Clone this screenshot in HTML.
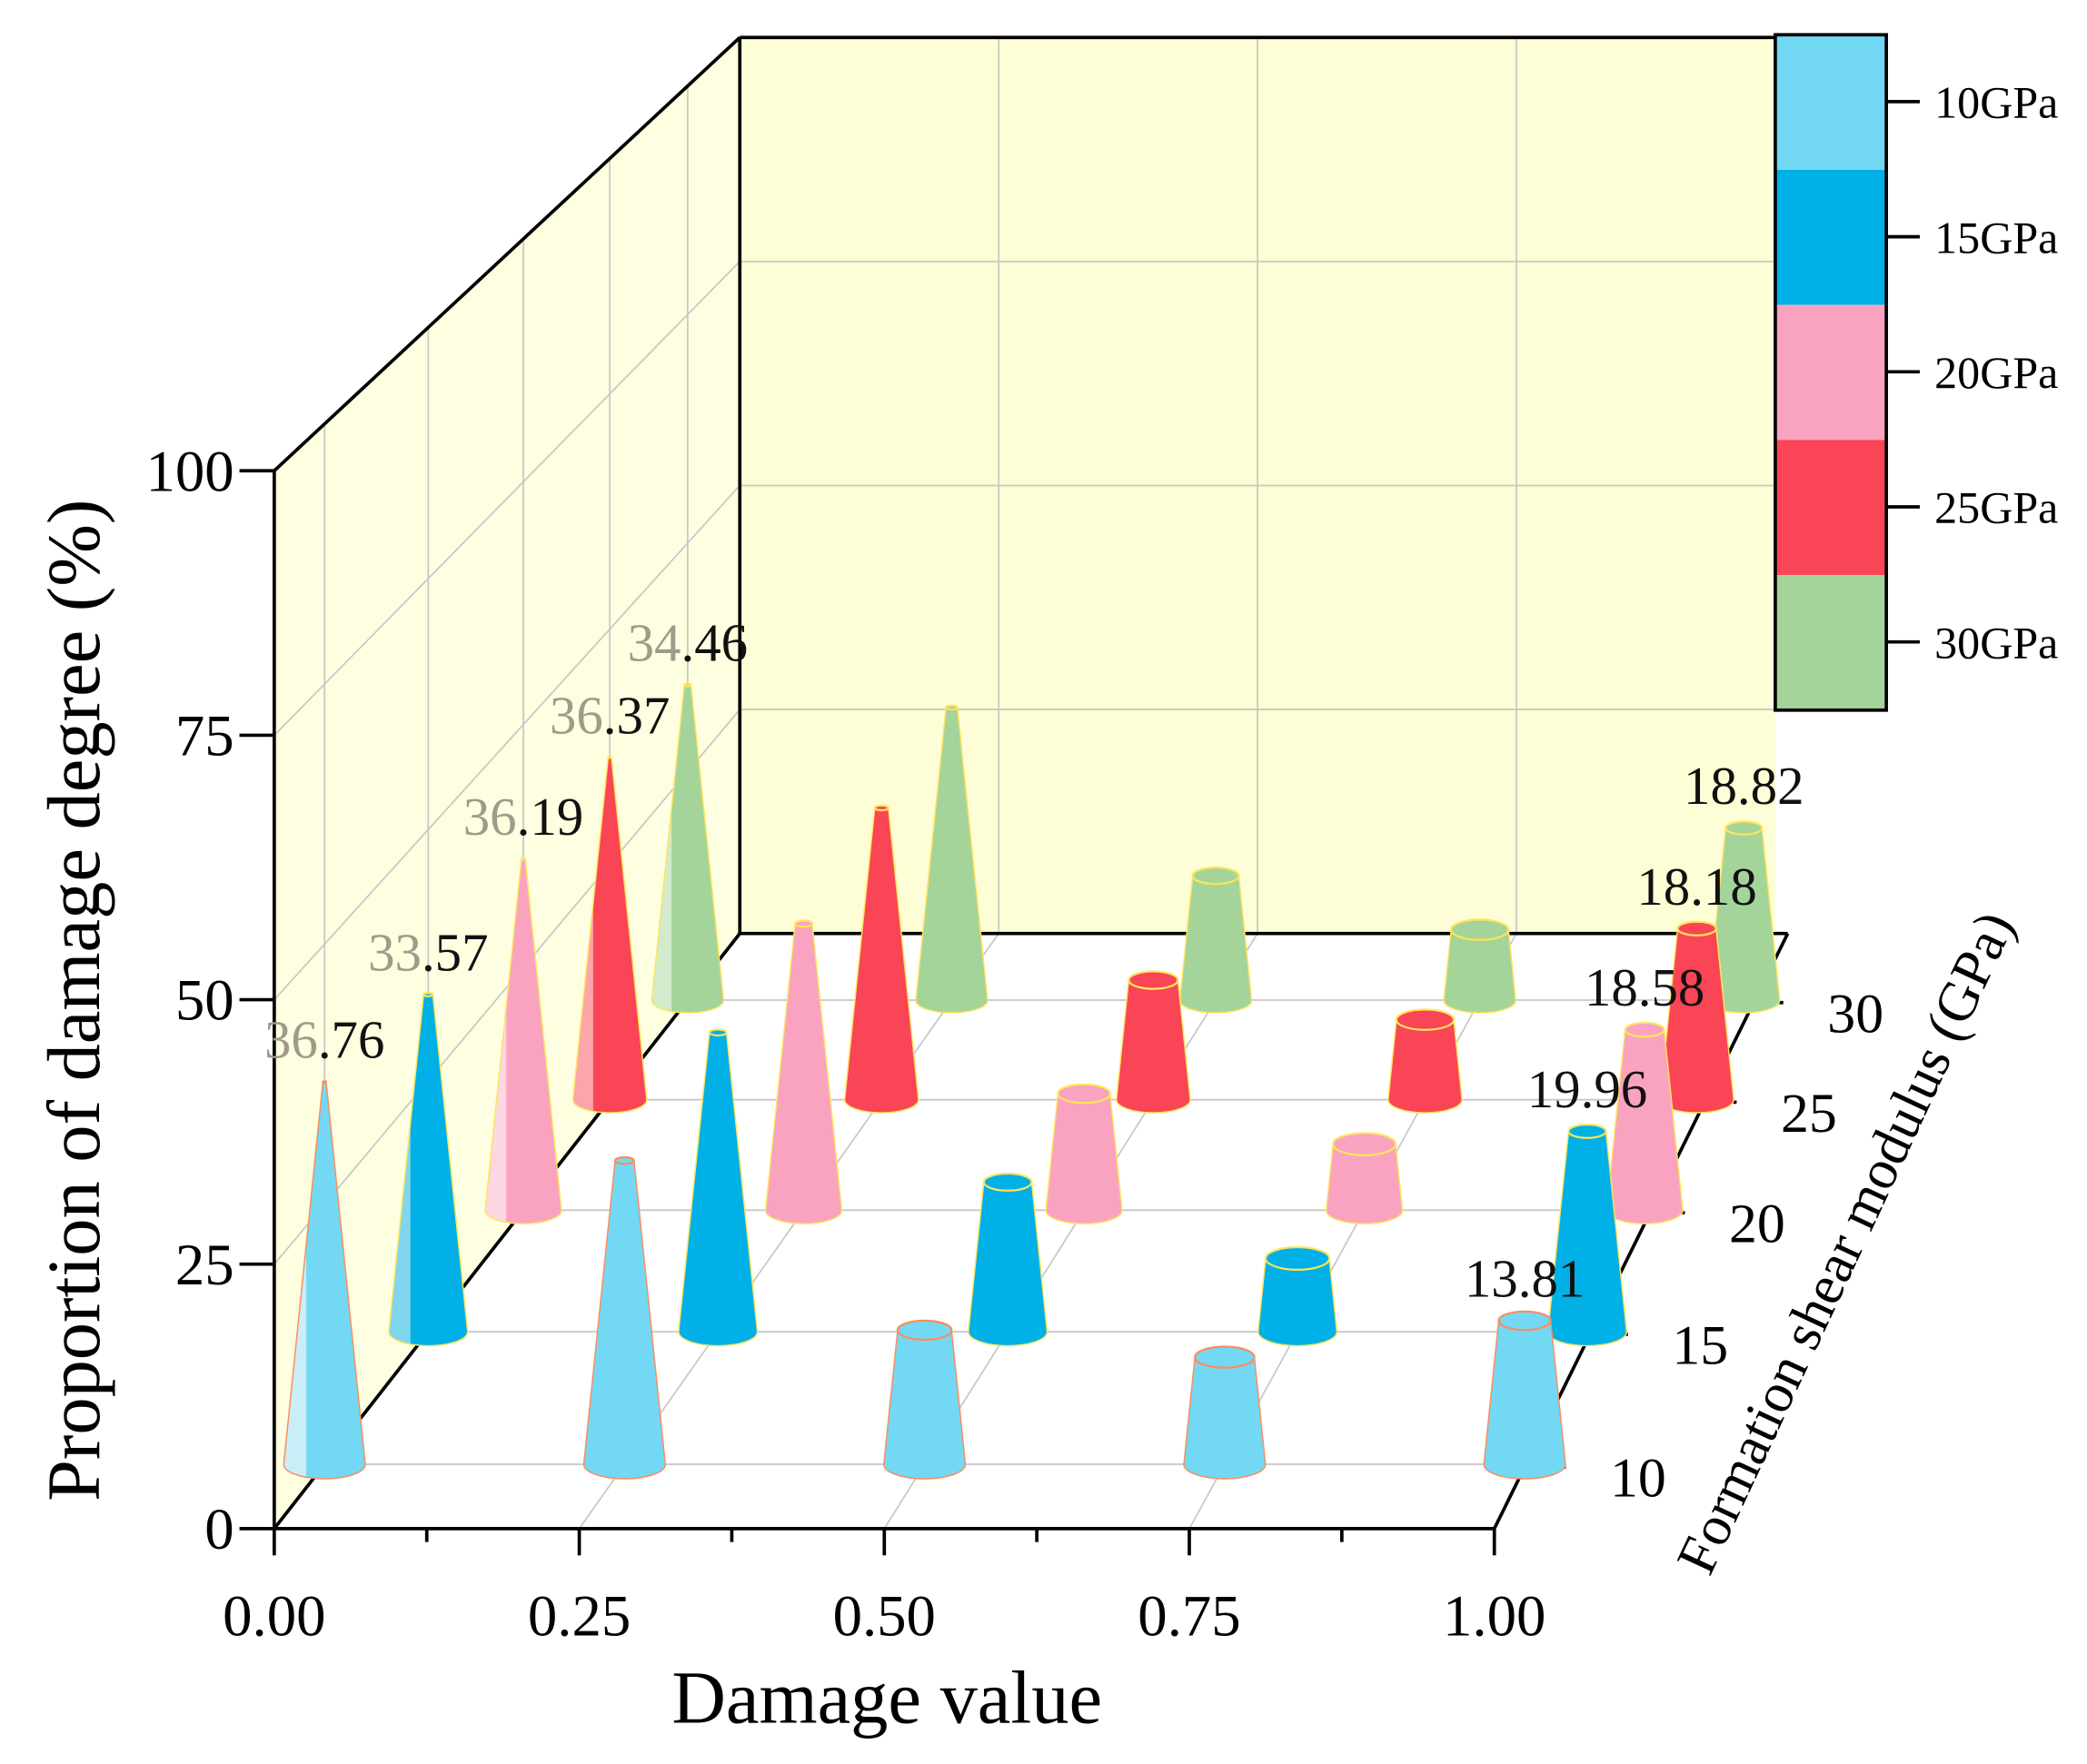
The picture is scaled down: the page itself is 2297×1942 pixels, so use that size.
<!DOCTYPE html>
<html><head><meta charset="utf-8">
<style>
html,body{margin:0;padding:0;background:#fff;}
svg{display:block;font-family:"Liberation Serif",serif;}
</style></head>
<body>
<svg id="chart" width="2297" height="1942" viewBox="0 0 1560 1319" preserveAspectRatio="none" xmlns="http://www.w3.org/2000/svg">
<defs></defs>
<g id="walls"></g>
<g id="grid"></g>
<g id="axes"></g>
<g id="cones"></g>
<g id="labels"></g>
<g id="legend"></g>
</svg>
<script>
const damageValues = [0, 0.25, 0.5, 0.75, 1.0];
const modulusGroups = [10, 15, 20, 25, 30];
const seriesNames = ["10GPa", "15GPa", "20GPa", "25GPa", "30GPa"];
const values10 = [36.76, 29.2, 12.9, 10.3, 13.81];
const values15 = [33.57, 29.8, 14.9, 7.3, 19.96];
const values20 = [36.19, 29.5, 12.0, 6.8, 18.58];
const values25 = [36.37, 31.0, 12.7, 8.5, 18.18];
const values30 = [34.46, 32.0, 13.6, 7.7, 18.82];
const allValues = [values10, values15, values20, values25, values30];
const labelledColumns = [0, 4];
const yTicks = [0, 25, 50, 75, 100];
const xTicks = [0, 0.25, 0.5, 0.75, 1.0];
const xTickLabels = ["0.00", "0.25", "0.50", "0.75", "1.00"];
const colors = ["#72d8f4", "#00b0e6", "#f9a3c0", "#f94555", "#a4d49a"];
const paleColors = ["#c8eef8", "#7fd6ee", "#fcd6e2", "#fca5ab", "#d2ebcc"];
const rimColors = ["#ff8c5a", "#ffe45a", "#ffe45a", "#ffe45a", "#ffe45a"];

const NS = "http://www.w3.org/2000/svg";
function el(tag, attrs, parent) {
  const e = document.createElementNS(NS, tag);
  for (const k in attrs) e.setAttribute(k, attrs[k]);
  parent.appendChild(e);
  return e;
}
function P(x, z, d) {
  const fx = 205 + 912 * x, fy = 1143 - 7.91 * z;
  const bx = 553 + 774 * x, by = 698 - 6.7 * z;
  return [fx * (1 - d) + bx * d, fy * (1 - d) + by * d];
}
function depth(g) { const u = (g - 10) / 20; return 0.108 + 0.928 * u - 0.148 * u * u; }
function scaleAt(d) { return 1 - 0.152 * d; }
const walls = document.getElementById('walls');
const grid = document.getElementById('grid');
const axes = document.getElementById('axes');
const cones = document.getElementById('cones');
const labels = document.getElementById('labels');
const legend = document.getElementById('legend');
function pts(a) { return a.map(p => p[0].toFixed(1) + ',' + p[1].toFixed(1)).join(' '); }

let w = el('polygon', {points: pts([P(0,0,0), P(0,100,0), P(0,100,1), P(0,0,1)]), fill: '#fefee0'}, walls);


w = el('polygon', {points: pts([P(0,0,1), P(0,100,1), P(1,100,1), P(1,0,1)]), fill: '#fdfdd6'}, walls);



const gs = {stroke: '#c8c8c8', 'stroke-width': 1.2};
[25, 50, 75].forEach(z => {
  let l = el('polyline', Object.assign({points: pts([P(0, z, 0), P(0, z, 1), P(1, z, 1)]), fill: 'none'}, gs), grid);
  
  
});
modulusGroups.forEach(g => {
  const d = depth(g);
  let l = el('polyline', Object.assign({points: pts([P(0,100,d), P(0,0,d), P(1,0,d)]), fill: 'none'}, gs), grid);
  
  
});
[0.25, 0.5, 0.75].forEach(x => {
  let l = el('polyline', Object.assign({points: pts([P(x,0,0), P(x,0,1), P(x,100,1)]), fill: 'none'}, gs), grid);
  
  
});

const ax = {stroke: '#000', 'stroke-width': 2.5, fill: 'none'};
[[P(0,0,0), P(0,100,0)], [P(0,100,0), P(0,100,1)], [P(0,100,1), P(1,100,1)], [P(0,100,1), P(0,0,1)],
 [P(0,0,0), P(1,0,0)], [P(0,0,1), P(1.012,0,1)], [P(1,0,0), P(1.012,0,1)], [P(0,0,0), P(0,0,1)]].forEach(s => {
  let l = el('line', Object.assign({x1: s[0][0], y1: s[0][1], x2: s[1][0], y2: s[1][1]}, ax), axes);
  
  
});
yTicks.forEach(v => {
  const p = P(0, v, 0);
  let t = el('line', {x1: p[0] - 26, y1: p[1], x2: p[0], y2: p[1], stroke: '#000', 'stroke-width': 2.5}, axes);
  
  
  let tx = el('text', {x: p[0] - 30, y: p[1] + 15, 'text-anchor': 'end', 'font-size': 44}, axes);
  tx.textContent = v;
  
  
});
for (let i = 0; i <= 8; i++) {
  const x = i / 8, p = P(x, 0, 0);
  let t = el('line', {x1: p[0], y1: p[1], x2: p[0], y2: p[1] + (i % 2 ? 10 : 20), stroke: '#000', 'stroke-width': 2.5}, axes);
  
  
}
xTicks.forEach((x, i) => {
  const p = P(x, 0, 0);
  let tx = el('text', {x: p[0], y: p[1] + 80, 'text-anchor': 'middle', 'font-size': 44}, axes);
  tx.textContent = xTickLabels[i];
  
  
});
modulusGroups.forEach(g => {
  const d = depth(g);
  const p = P(1.012, 0, d);
  const px = p[0] + 2;
  let t = el('line', {x1: px, y1: p[1], x2: px + 18, y2: p[1] + 2, stroke: '#000', 'stroke-width': 2.5}, axes);
  
  
  let tx = el('text', {x: px + 72, y: p[1] + 24, 'text-anchor': 'middle', 'font-size': 42}, axes);
  tx.textContent = g;
  
  
});
let tt = el('text', {x: 0, y: 0, 'text-anchor': 'middle', 'font-size': 56, transform: 'translate(74,748) rotate(-90)'}, axes);
tt.textContent = 'Proportion of damage degree (%)';


tt = el('text', {x: 663, y: 1288, 'text-anchor': 'middle', 'font-size': 56}, axes);
tt.textContent = 'Damage value';


tt = el('text', {x: 0, y: 0, 'text-anchor': 'middle', 'font-size': 42, transform: 'translate(1392,935) rotate(-65)'}, axes);
tt.textContent = 'Formation shear modulus (GPa)';



const defs = document.querySelector('defs');
colors.forEach((c, i) => {
  const lg = el('linearGradient', {id: 'g' + i, x1: 0, y1: 0, x2: 1, y2: 0}, defs);
  el('stop', {offset: '0', 'stop-color': paleColors[i]}, lg);
  el('stop', {offset: '0.27', 'stop-color': paleColors[i]}, lg);
  el('stop', {offset: '0.28', 'stop-color': c}, lg);
  el('stop', {offset: '1', 'stop-color': c}, lg);
});

for (let gi = modulusGroups.length - 1; gi >= 0; gi--) {
  const d = depth(modulusGroups[gi]), s = scaleAt(d);
  damageValues.forEach((x, xi) => {
    const v = allValues[gi][xi];
    const b = P(x, 0, d), t = P(x, v, d);
    const r = 31 * s, ry = 11 * s;
    const k = Math.max(0.04, 1 - v / 38);
    const rt = r * k, ryt = ry * k;
    const fill = (xi === 0 ? 'url(#g' + gi + ')' : colors[gi]);
    const path = `M${b[0]-r},${b[1]} L${t[0]-rt},${t[1]} L${t[0]+rt},${t[1]} L${b[0]+r},${b[1]} A${r},${ry} 0 0 1 ${b[0]-r},${b[1]} Z`;
    const g = el('g', {}, cones);
    
    
    el('path', {d: path, fill: fill, stroke: rimColors[gi], 'stroke-width': 1}, g);
    el('ellipse', {cx: t[0], cy: t[1], rx: rt, ry: ryt, fill: colors[gi], stroke: rimColors[gi], 'stroke-width': 1.5}, g);
  });
}
modulusGroups.forEach((gv, gi) => {
  const d = depth(gv);
  labelledColumns.forEach(xi => {
    const v = allValues[gi][xi];
    const t = P(damageValues[xi], v, d);
    const s = v.toFixed(2);
    const tx = el('text', {x: t[0], y: t[1] - 18, 'text-anchor': 'middle', 'font-size': 40, fill: '#111'}, labels);
    
    
    if (xi === 0) {
      const a = el('tspan', {fill: '#a09a8a'}, tx); a.textContent = s.slice(0, 2);
      const b = el('tspan', {}, tx); b.textContent = s.slice(2);
    } else {
      tx.textContent = s;
    }
  });
});

seriesNames.forEach((n, i) => {
  const y = 26 + i * 101;
  const r = el('rect', {x: 1327, y: y, width: 83, height: 101, fill: colors[i]}, legend);
  
  
  const tk = el('line', {x1: 1410, y1: y + 50, x2: 1435, y2: y + 50, stroke: '#000', 'stroke-width': 2.5}, legend);
  
  
  const tx = el('text', {x: 1446, y: y + 62, 'font-size': 34}, legend);
  tx.textContent = n;
  
  
});
const fr = el('rect', {x: 1327, y: 26, width: 83, height: 505, fill: 'none', stroke: '#000', 'stroke-width': 2.5}, legend);


</script>
</body></html>
